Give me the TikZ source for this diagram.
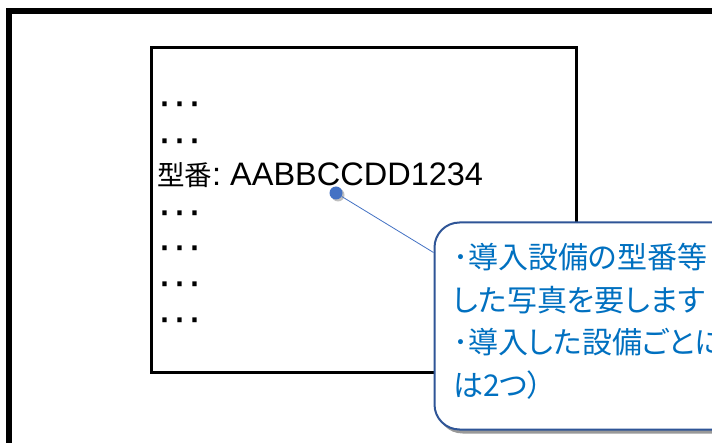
\documentclass[tikz,border=0pt]{standalone}
\usepackage{fontspec}
\newfontfamily\jpfont{Noto Sans CJK JP}
\newfontfamily\jpprop[RawFeature=+palt]{Noto Sans CJK JP}
\newfontfamily\latinfont{Liberation Sans}
\usetikzlibrary{shadows}
\definecolor{calloutblue}{RGB}{47,85,151}
\definecolor{dotblue}{RGB}{68,114,196}
\definecolor{notetext}{RGB}{0,112,192}
\begin{document}
\begin{tikzpicture}[x=1pt,y=-1pt,
		rowtext/.style={anchor=base west, inner sep=0pt, font=\jpfont\fontsize{27.5}{33}\selectfont},
		dotrow/.style={anchor=base west, inner sep=0pt, text height=20pt, text depth=0pt,
			font=\latinfont\fontsize{45}{50}\selectfont},
		callout/.style={anchor=north west, draw=calloutblue, line width=2pt, fill=white, rounded corners=25pt,
			minimum width=420pt, minimum height=207pt, inner sep=0pt,
			drop shadow={shadow xshift=3pt, shadow yshift=-4pt, fill=black!40, opacity=1}},
		notebox/.style={anchor=base west, inner sep=0pt, align=left, text=notetext,
			font=\jpprop\fontsize{30}{42.5}\selectfont},
		leaderdot/.style={circle, fill=dotblue, minimum size=13pt, inner sep=0pt,
			drop shadow={shadow xshift=2pt, shadow yshift=-2pt, fill=black, opacity=0.25}}]
	\useasboundingbox (0,0) rectangle (712,443);
	\clip (0,0) rectangle (712,443);
	\fill[white] (0,0) rectangle (712,443);
	
	\draw[line width=6pt] (9,470) -- (9,11) -- (740,11);
	\draw[line width=3pt] (151.5,47.5) rectangle (576.5,372.5);
	
	\foreach \y/\n in {102/1,139/2,211/4,246/5,282/6,318/7}
		\node[dotrow] (row\n) at (157.5,\y+15) {···};
	\node[rowtext] (row3) at (157,185.5) {型番{\latinfont\fontsize{32.5}{38}\selectfont :\kern9pt AABBCCDD1234}};
	
	\node[callout] (callout) at (433.5,221.5) {};
	\coordinate (tip) at ([yshift=-31pt]callout.north west);
	% anchor base west sits on the last line
	\node[notebox] (note) at (453,396) {･導入設備の型番等\\した写真を要します\\･導入した設備ごとに\\は2つ）};
	
	\node[leaderdot] (dot) at (336,193) {};
	\draw[dotblue, line width=0.8pt] (dot) -- (tip);
\end{tikzpicture}
\end{document}
